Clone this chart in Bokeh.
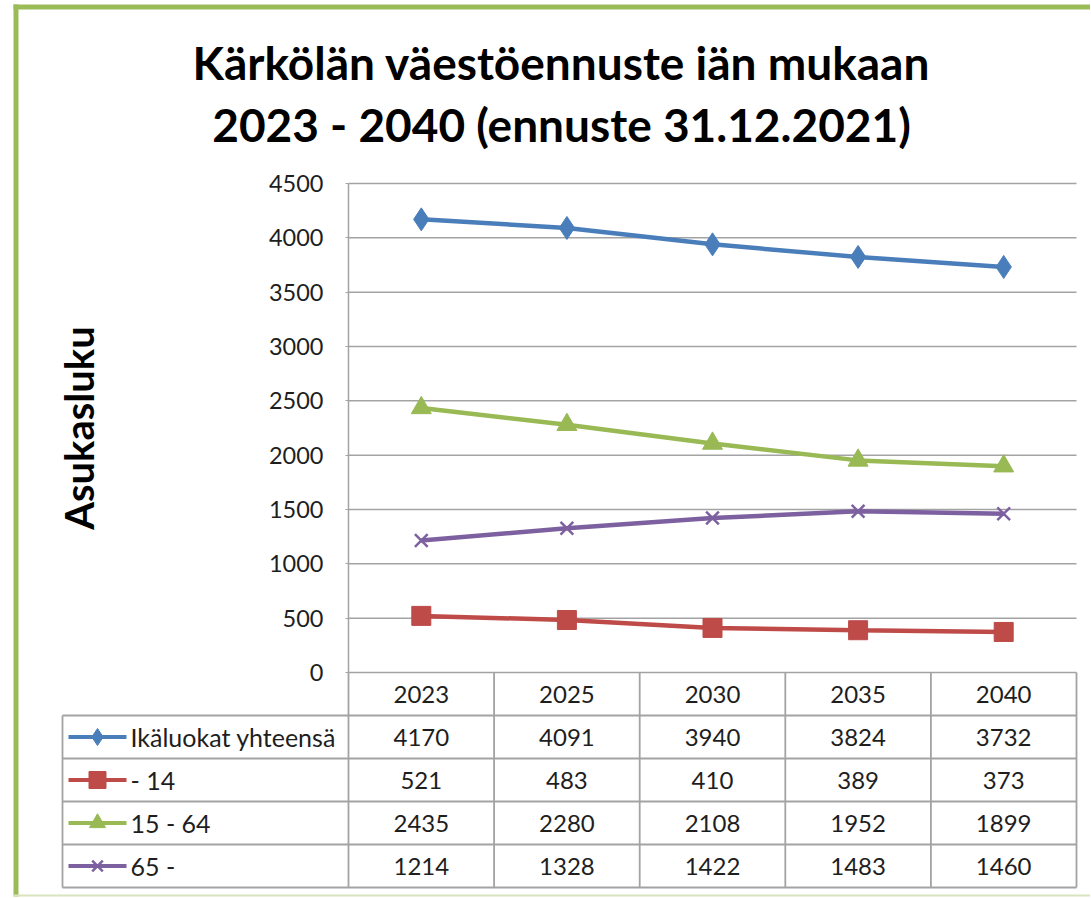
from bokeh.plotting import figure
from bokeh.models import Range1d, FixedTicker
from bokeh.embed import file_html
from bokeh.resources import INLINE
from bokeh.core.properties import value

# ---------------- data ----------------
years = ["2023", "2025", "2030", "2035", "2040"]
series_names = ["Ikäluokat yhteensä", "- 14", "15 - 64", "65 -"]
total = [4170, 4091, 3940, 3824, 3732]
age_0_14 = [521, 483, 410, 389, 373]
age_15_64 = [2435, 2280, 2108, 1952, 1899]
age_65_plus = [1214, 1328, 1422, 1483, 1460]
y_ticks = [0, 500, 1000, 1500, 2000, 2500, 3000, 3500, 4000, 4500]

title_lines = ["Kärkölän väestöennuste iän mukaan", "2023 - 2040 (ennuste 31.12.2021)"]
y_label = "Asukasluku"

# ---------------- styles / layout constants ----------------
FONT = "Lato"
TEXT_COLOR = "#1e1e1e"
GRID_COLOR = "#A3A3A3"
BORDER_GREEN = "#9BBB59"
colors = ["#4A7EBB", "#BE4B48", "#98B954", "#7D60A0"]
markers = ["diamond", "square", "triangle", "x"]
marker_sizes = [23, 19, 20, 18]
key_marker_sizes = [17, 17, 16, 15]
series = [total, age_0_14, age_15_64, age_65_plus]

W, H = 1090, 897            # canvas size
OX, OY = 0, 0               # page position of canvas
PLOT_L, PLOT_R = 348, 1076  # plot area (page px)
PLOT_T, PLOT_B = 183, 672
ROW_H = 43
TABLE_L = 62
n = len(years)
cw = (PLOT_R - PLOT_L) / n
ky = (PLOT_B - PLOT_T) / max(y_ticks)

x_range = Range1d((OX - PLOT_L) / cw, (OX + W - PLOT_L) / cw)
y_range = Range1d((PLOT_B - (OY + H)) / ky, (PLOT_B - OY) / ky)

p = figure(width=W, height=H, x_range=x_range, y_range=y_range,
           x_axis_location=None, y_axis_location="left", toolbar_location=None,
           output_backend="svg", min_border=0)
p.min_border_left = p.min_border_right = p.min_border_top = p.min_border_bottom = 0
p.outline_line_color = None
p.grid.visible = False
p.background_fill_color = "white"
p.border_fill_color = "white"
p.extra_x_ranges = {"px": Range1d(OX, OX + W)}
p.extra_y_ranges = {"px": Range1d(OY + H, OY),
                    "rows": Range1d((OY + H - PLOT_B) / ROW_H, (OY - PLOT_B) / ROW_H)}

# ---------------- value axis ----------------
ax = p.yaxis[0]
ax.fixed_location = 0
ax.bounds = (0, max(y_ticks))
ax.ticker = FixedTicker(ticks=y_ticks)
ax.axis_line_color = GRID_COLOR
ax.axis_line_width = 1.5
ax.major_tick_out = 3
ax.major_tick_in = 0
ax.major_tick_line_color = GRID_COLOR
ax.minor_tick_line_color = None
ax.major_label_standoff = 22
ax.major_label_text_font = FONT
ax.major_label_text_font_size = "23.5px"
ax.major_label_text_color = TEXT_COLOR
ax.axis_label = y_label
ax.axis_label_text_font = FONT
ax.axis_label_text_font_size = "40px"
ax.axis_label_text_font_style = "bold"
ax.axis_label_text_color = "black"
ax.axis_label_standoff = 163

# horizontal gridlines over the plot area only
p.segment(x0=[0] * len(y_ticks), y0=y_ticks, x1=[n] * len(y_ticks), y1=y_ticks,
          line_color=GRID_COLOR, line_width=1.5)

# ---------------- series ----------------
xs = [i + 0.5 for i in range(n)]
for vals, c, m, s in zip(series, colors, markers, marker_sizes):
    p.line(xs, vals, line_color=c, line_width=4.5)
    if m == "x":
        p.scatter(xs, vals, marker=m, size=s, line_color=c, line_width=2.5)
    else:
        p.scatter(xs, vals, marker=m, size=s, fill_color=c, line_color=c)

# ---------------- title ----------------
p.text(x=[561, 561], y=[62, 124], text=title_lines, x_range_name="px", y_range_name="px",
       text_align="center", text_baseline="alphabetic", text_font=value(FONT),
       text_font_size="46px", text_font_style="bold", text_color="black")

# ---------------- data table ----------------
L = (PLOT_L - TABLE_L) / cw
nrows = len(series_names) + 1
hy = list(range(1, nrows + 1))
p.segment(x0=[-L] * len(hy), y0=hy, x1=[n] * len(hy), y1=hy, y_range_name="rows",
          line_color=GRID_COLOR, line_width=1.8)
vx = list(range(0, n + 1))
p.segment(x0=vx, y0=[0] * len(vx), x1=vx, y1=[nrows] * len(vx), y_range_name="rows",
          line_color=GRID_COLOR, line_width=1.8)
p.segment(x0=[-L], y0=[1], x1=[-L], y1=[nrows], y_range_name="rows",
          line_color=GRID_COLOR, line_width=1.8)

p.text(x=xs, y=[0.5] * n, text=years, y_range_name="rows", text_align="center",
       text_baseline="middle", text_font=value(FONT), text_font_size="24px", text_color=TEXT_COLOR)
for r, (name, vals, c, m, ks) in enumerate(zip(series_names, series, colors, markers, key_marker_sizes)):
    yy = r + 1.5
    p.text(x=xs, y=[yy] * n, text=[str(v) for v in vals], y_range_name="rows", text_align="center",
           text_baseline="middle", text_font=value(FONT), text_font_size="24px", text_color=TEXT_COLOR)
    p.text(x=[130], y=[yy], text=[name], x_range_name="px", y_range_name="rows", text_align="left",
           text_baseline="middle", text_font=value(FONT), text_font_size="25px", text_color=TEXT_COLOR)
    p.segment(x0=[68], y0=[yy], x1=[126], y1=[yy], x_range_name="px", y_range_name="rows",
              line_color=c, line_width=4)
    if m == "x":
        p.scatter([97], [yy], marker=m, size=ks, x_range_name="px", y_range_name="rows",
                  line_color=c, line_width=2.5)
    else:
        p.scatter([97], [yy], marker=m, size=ks, x_range_name="px", y_range_name="rows",
                  fill_color=c, line_color=c)

# ---------------- green chart-area border ----------------
p.segment(x0=[15.5, 13, 13], y0=[4, 6.5, 895], x1=[15.5, OX + W, OX + W], y1=[896, 6.5, 895],
          x_range_name="px", y_range_name="px",
          line_color=[BORDER_GREEN, BORDER_GREEN, "#D7E4BD"], line_width=[5, 5, 2])

open("out.html", "w").write(file_html(p, INLINE))
